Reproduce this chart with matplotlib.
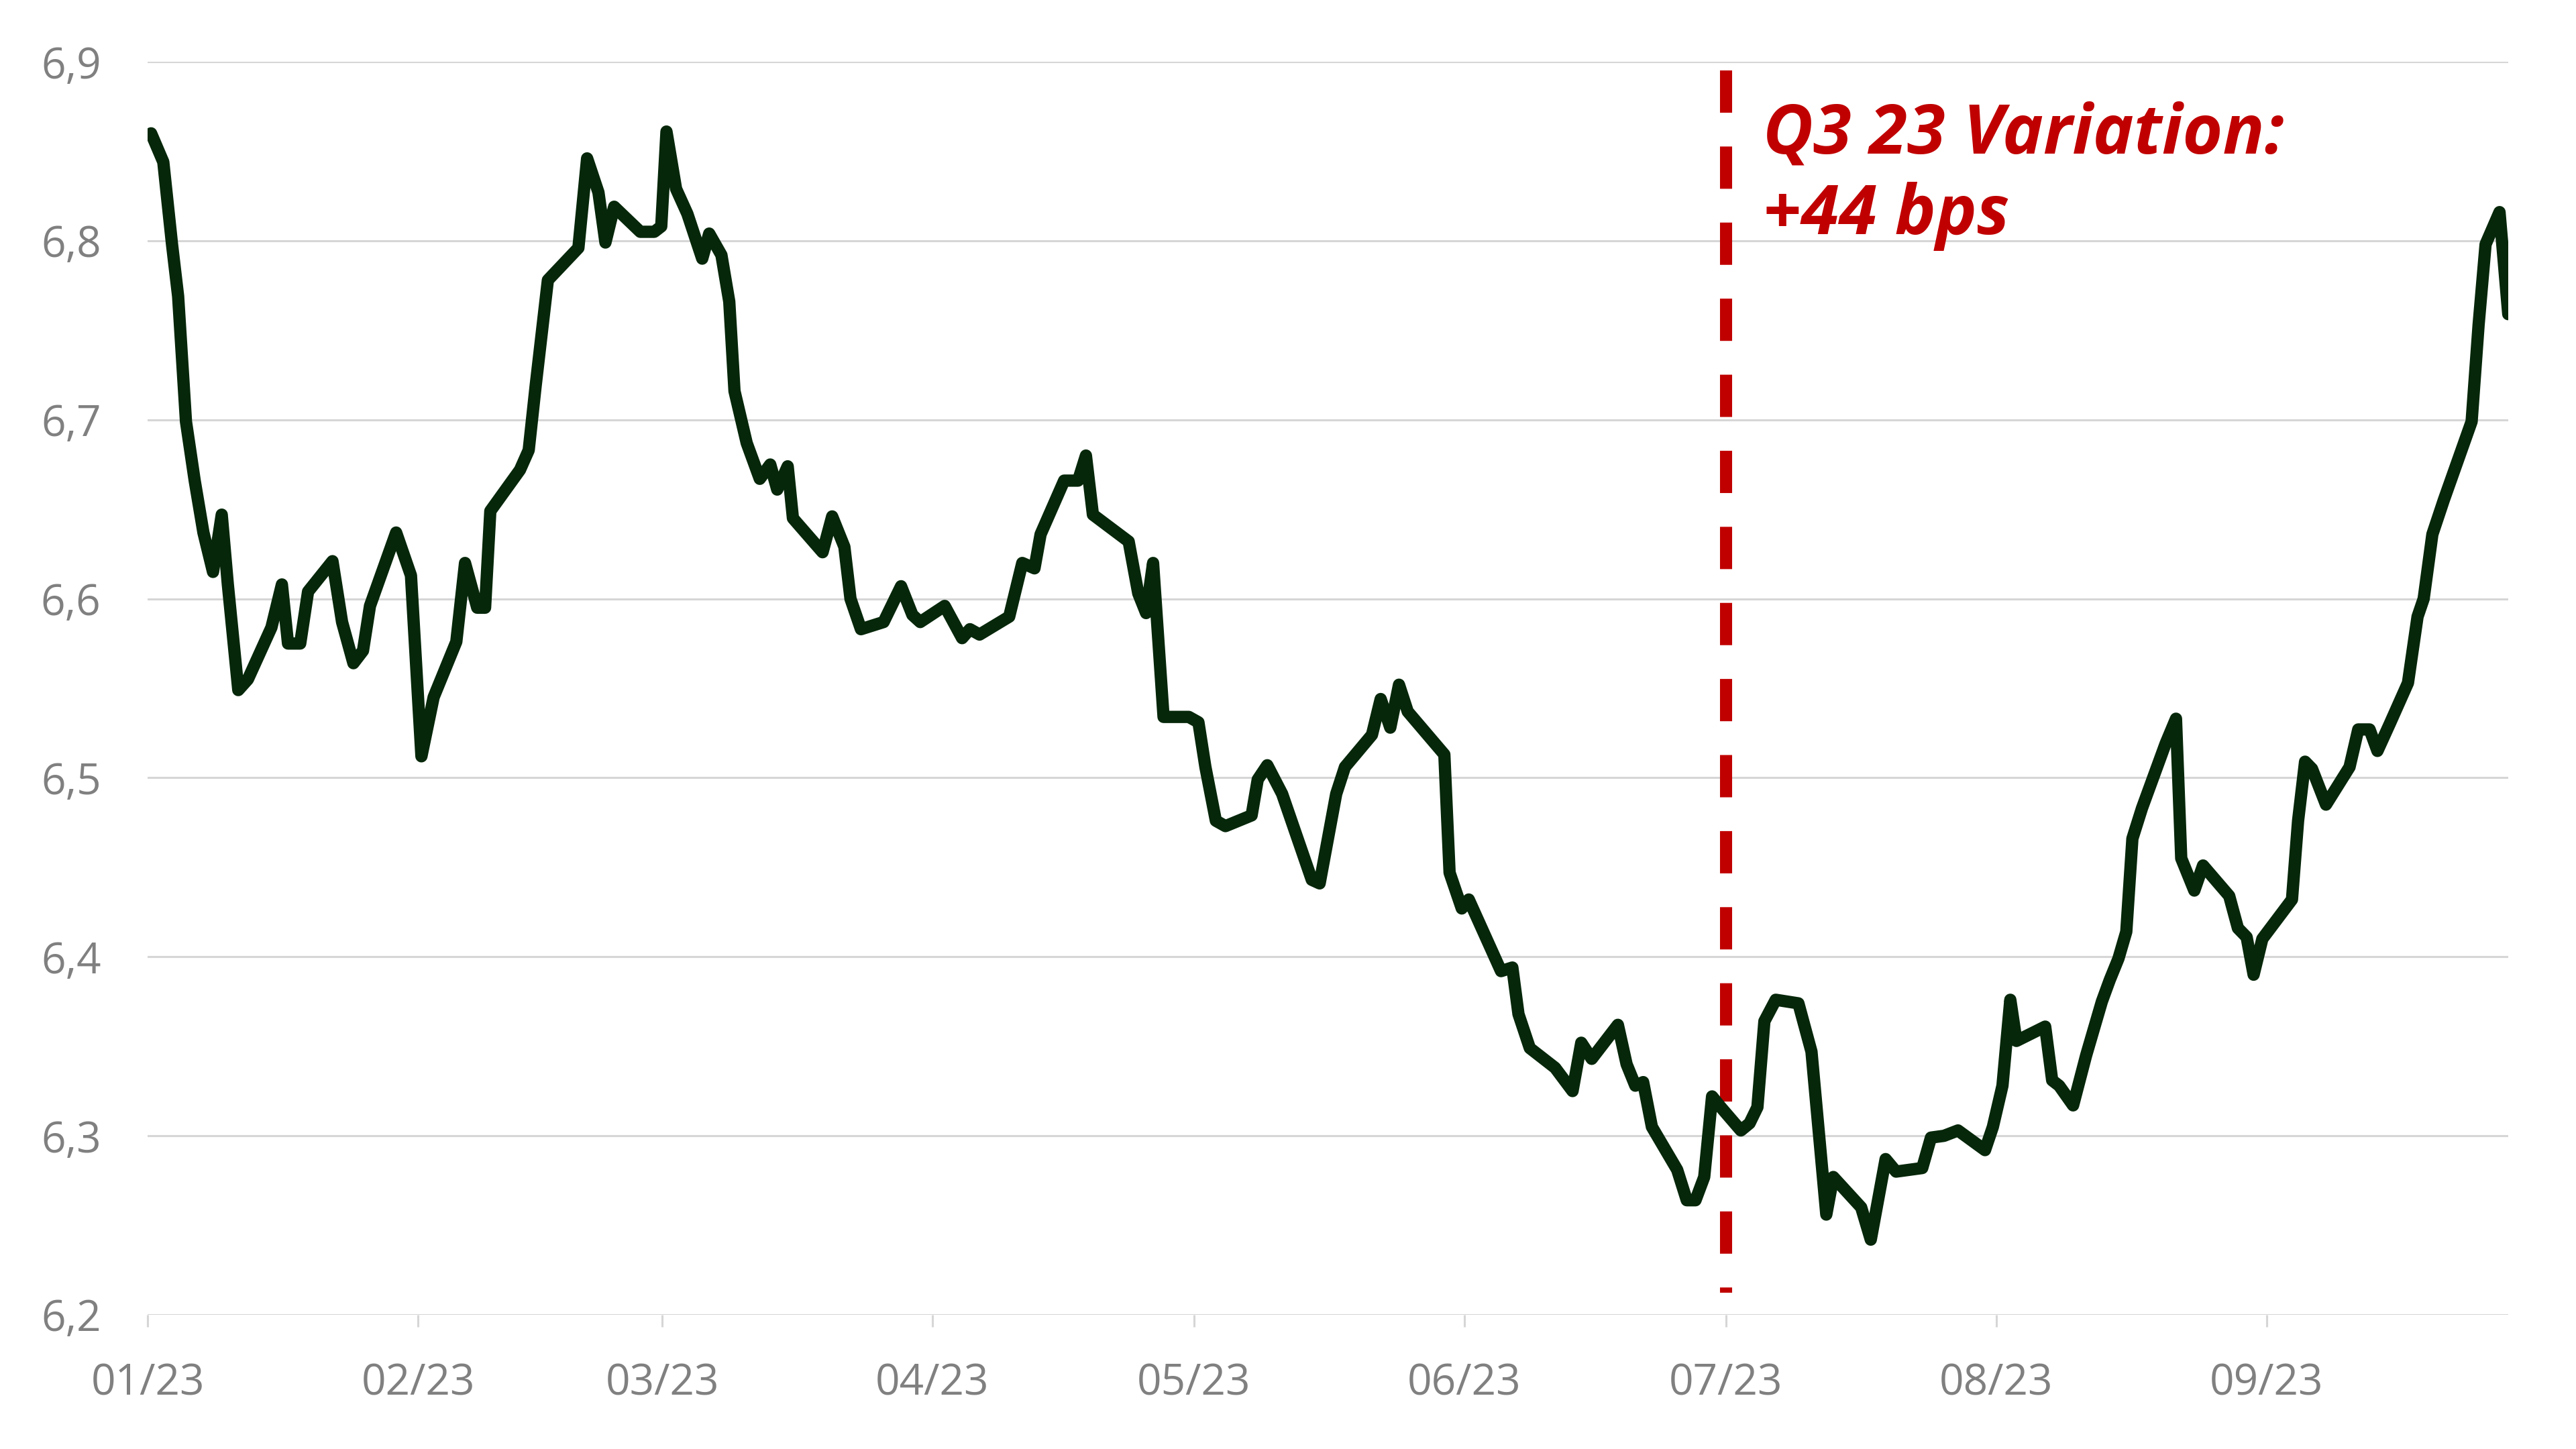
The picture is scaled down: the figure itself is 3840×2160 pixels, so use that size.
import matplotlib
matplotlib.use('Agg')
import matplotlib.pyplot as plt
import pandas as pd

plt.rcParams['font.family'] = ['Open Sans', 'DejaVu Sans']

# position of each vertex in days since 1 Jan 2023
days = [0.4, 1.8, 2.8, 3.5, 4.4, 5.4, 6.4, 7.5, 8.5, 9.2, 10.4, 11.5, 14.2, 15.4,
        16.1, 17.5, 18.4, 21.2, 22.3, 23.6, 24.7, 25.5, 28.5, 30.2, 31.4, 32.8,
        35.4, 36.4, 37.8, 38.7, 39.3, 42.7, 43.7, 44.5, 45.9, 49.4, 50.4, 51.7,
        52.5, 53.5, 56.5, 58.1, 58.9, 59.5, 60.6, 61.9, 63.6, 64.4, 65.8, 66.7,
        67.3, 68.7, 70.2, 71.4, 72.2, 73.4, 74.0, 77.4, 78.5, 79.9, 80.6, 81.8,
        84.4, 86.4, 87.7, 88.6, 91.4, 93.4, 94.3, 95.4, 98.8, 100.3, 101.7, 102.4,
        105.1, 106.7, 107.6, 108.4, 112.5, 113.6, 114.5, 115.3, 116.5, 119.4,
        120.5, 121.3, 122.5, 123.6, 126.6, 127.3, 128.4, 130.1, 133.5, 134.4,
        136.3, 137.3, 140.4, 141.4, 142.5, 143.5, 144.5, 148.7, 149.3, 150.7,
        151.5, 155.2, 156.5, 157.2, 158.5, 161.4, 163.4, 164.4, 165.6, 168.6,
        169.6, 170.6, 171.5, 172.5, 175.4, 176.5, 177.5, 178.5, 179.4, 180.4,
        182.7, 183.7, 184.6, 185.4, 186.7, 189.3, 190.8, 192.5, 193.3, 196.5,
        197.6, 199.3, 200.5, 203.5, 204.5, 206.0, 207.6, 210.7, 211.6, 212.7,
        213.6, 214.3, 217.6, 218.4, 219.2, 220.8, 222.3, 224.1, 225.0, 226.0,
        226.9, 227.6, 228.7, 231.4, 232.6, 233.2, 234.7, 235.7, 238.7, 239.7,
        240.7, 241.5, 242.5, 245.9, 246.6, 247.4, 248.2, 249.8, 252.5, 253.5,
        254.8, 255.7, 257.1, 259.2, 260.3, 261.0, 262.0, 263.3, 266.5, 267.3,
        268.1, 269.7, 270.7]
yields = [6.860, 6.844, 6.798, 6.769, 6.699, 6.666, 6.637, 6.615, 6.647, 6.608,
          6.549, 6.555, 6.584, 6.608, 6.575, 6.575, 6.604, 6.621, 6.587, 6.564,
          6.571, 6.596, 6.637, 6.613, 6.512, 6.545, 6.576, 6.620, 6.595, 6.595,
          6.649, 6.672, 6.683, 6.719, 6.778, 6.796, 6.846, 6.827, 6.799, 6.819,
          6.805, 6.805, 6.808, 6.861, 6.829, 6.815, 6.790, 6.804, 6.792, 6.766,
          6.716, 6.687, 6.667, 6.675, 6.661, 6.674, 6.645, 6.626, 6.646, 6.629,
          6.600, 6.583, 6.587, 6.607, 6.591, 6.587, 6.596, 6.578, 6.583, 6.580,
          6.590, 6.620, 6.617, 6.636, 6.666, 6.666, 6.680, 6.647, 6.632, 6.603,
          6.592, 6.620, 6.534, 6.534, 6.531, 6.506, 6.476, 6.473, 6.479, 6.499,
          6.507, 6.491, 6.443, 6.441, 6.491, 6.506, 6.524, 6.544, 6.528, 6.552,
          6.537, 6.513, 6.447, 6.427, 6.432, 6.392, 6.394, 6.368, 6.349, 6.338,
          6.325, 6.352, 6.343, 6.362, 6.340, 6.328, 6.330, 6.305, 6.281, 6.264,
          6.264, 6.277, 6.322, 6.316, 6.303, 6.307, 6.316, 6.364, 6.376, 6.374,
          6.347, 6.256, 6.277, 6.260, 6.242, 6.287, 6.280, 6.282, 6.299, 6.300,
          6.303, 6.292, 6.305, 6.328, 6.376, 6.353, 6.361, 6.331, 6.328, 6.317,
          6.345, 6.375, 6.387, 6.399, 6.414, 6.466, 6.483, 6.519, 6.533, 6.455,
          6.437, 6.451, 6.434, 6.416, 6.411, 6.390, 6.410, 6.432, 6.476, 6.509,
          6.505, 6.485, 6.506, 6.527, 6.527, 6.515, 6.530, 6.553, 6.590, 6.600,
          6.636, 6.655, 6.699, 6.753, 6.798, 6.816, 6.759]

y_ticks = [6.2, 6.3, 6.4, 6.5, 6.6, 6.7, 6.8, 6.9]
month_ticks = ['2023-01-01', '2023-02-01', '2023-03-01', '2023-04-01', '2023-05-01',
               '2023-06-01', '2023-07-01', '2023-08-01', '2023-09-01']
month_labels = ['01/23', '02/23', '03/23', '04/23', '05/23', '06/23', '07/23', '08/23', '09/23']
q3_start = '2023-07-01'
note = 'Q3 23 Variation:\n+44 bps'

start = pd.Timestamp('2023-01-01')
dates = start + pd.to_timedelta(days, unit='D')

fig = plt.figure(figsize=(19.2, 10.8), dpi=200)
ax = fig.add_axes([0.0573, 0.0926, 0.9164, 0.8648])

grey = '#d6d6d6'
for v in y_ticks:
    ax.axhline(v, color=grey, lw=1.1, zorder=0)

ax.plot(dates, yields, color='#06270a', lw=6.6, solid_joinstyle='round',
        solid_capstyle='round', zorder=3)

# start of Q3 marker
ax.plot([pd.Timestamp(q3_start)] * 2, [6.895, 6.2125], color='#c00000', lw=6.5,
        linestyle=(0, (3.49, 2.79)), dash_capstyle='butt', zorder=2)
ax.text(pd.Timestamp('2023-07-05 06:00'), 6.878, note, color='#c00000',
        fontsize=37, fontweight='bold', fontstyle='italic', va='top', ha='left',
        linespacing=1.22, zorder=4)

ax.set_xlim(start, dates[-1])
ax.set_ylim(6.2, 6.9)
ax.set_yticks(y_ticks)
ax.set_yticklabels([f'{v:.1f}'.replace('.', ',') for v in y_ticks])
ax.set_xticks(pd.to_datetime(month_ticks))
ax.set_xticklabels(month_labels)

for s in ax.spines.values():
    s.set_visible(False)
ax.tick_params(axis='y', length=0, pad=25, labelsize=23, labelcolor='#808080')
ax.tick_params(axis='x', length=6.5, width=1.1, color=grey, pad=19,
               labelsize=23, labelcolor='#808080')

fig.savefig('out.png', dpi=200, facecolor='white')
